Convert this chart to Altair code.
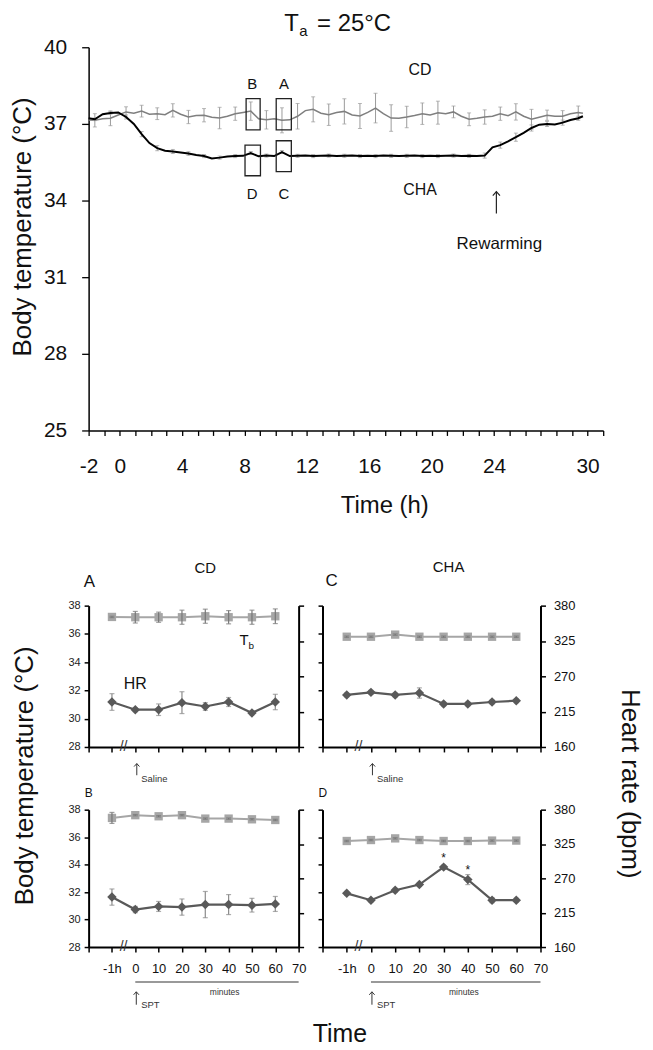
import altair as alt
import pandas as pd

FONT = "Liberation Sans"
INK = "#111111"
CHEVRON = "M-0.9,0.5L0,-0.5L0.9,0.5"

# ---------------- top panel : Ta = 25 C ----------------
t_top = [-2.0, -1.6, -1.1, -0.6, -0.1, 0.4, 0.9, 1.4, 1.9, 2.4,
         2.9, 3.4, 3.9, 4.4, 4.9, 5.4, 5.9, 6.4, 6.9, 7.4,
         7.9, 8.4, 8.9, 9.4, 9.9, 10.4, 10.9, 11.4, 11.9, 12.4,
         12.9, 13.4, 13.9, 14.4, 14.9, 15.4, 15.9, 16.4, 16.9, 17.4,
         17.9, 18.4, 18.9, 19.4, 19.9, 20.4, 20.9, 21.4, 21.9, 22.4,
         22.9, 23.4, 23.9, 24.4, 24.9, 25.4, 25.9, 26.4, 26.9, 27.4,
         27.9, 28.4, 28.9, 29.4, 29.7]
cd_top = [37.15, 37.14, 37.2, 37.22, 37.35, 37.47, 37.42, 37.5, 37.38, 37.4,
          37.36, 37.53, 37.38, 37.27, 37.33, 37.34, 37.26, 37.23, 37.3, 37.4,
          37.45, 37.5, 37.2, 37.16, 37.2, 37.14, 37.16, 37.3, 37.52, 37.57,
          37.42, 37.36, 37.45, 37.49, 37.35, 37.31, 37.45, 37.62, 37.4, 37.23,
          37.22, 37.27, 37.33, 37.4, 37.35, 37.44, 37.4, 37.47, 37.3, 37.18,
          37.22, 37.27, 37.3, 37.4, 37.32, 37.47, 37.3, 37.18, 37.26, 37.34,
          37.3, 37.3, 37.4, 37.45, 37.42]
cha_top = [37.22, 37.18, 37.38, 37.43, 37.45, 37.27, 37.0, 36.6, 36.25, 36.05,
           35.95, 35.92, 35.88, 35.84, 35.78, 35.74, 35.65, 35.68, 35.72, 35.74,
           35.75, 35.86, 35.73, 35.76, 35.74, 35.9, 35.74, 35.75, 35.76, 35.74,
           35.75, 35.76, 35.74, 35.75, 35.76, 35.74, 35.75, 35.74, 35.76, 35.75,
           35.74, 35.75, 35.76, 35.74, 35.75, 35.74, 35.75, 35.76, 35.74, 35.75,
           35.74, 35.76, 36.08, 36.17, 36.32, 36.48, 36.65, 36.84, 36.97, 37.0,
           36.98, 37.05, 37.15, 37.22, 37.3]
# SEM at every other sample (hourly error bars)
cd_err = [0.26, 0.29, 0.2, 0.23, 0.23, 0.26, 0.26, 0.26, 0.42, 0.26,
          0.36, 0.36, 0.49, 0.5, 0.49, 0.42, 0.49, 0.49, 0.58, 0.52,
          0.42, 0.42, 0.45, 0.23, 0.25, 0.28, 0.26, 0.32, 0.39, 0.2,
          0.22, 0.25]
cha_err = [0.05, 0.05, 0.08, 0.1, 0.1, 0.08, 0.07, 0.06, 0.06, 0.06,
           0.06, 0.06, 0.06, 0.06, 0.06, 0.06, 0.06, 0.06, 0.06, 0.06,
           0.06, 0.06, 0.06, 0.06, 0.06, 0.1, 0.12, 0.16, 0.12, 0.1,
           0.1, 0.08]

box_labels = ["B", "A", "D", "C"]
box_t0 = [8.1, 10.03, 8.03, 10.03]
box_t1 = [9.0, 11.0, 9.02, 11.0]
box_lo = [36.77, 36.77, 34.97, 35.13]
box_hi = [37.99, 37.99, 36.17, 36.34]
box_label_t = [8.49, 10.52, 8.49, 10.52]
box_label_y = [38.57, 38.57, 34.27, 34.27]

top_x_ticks = list(range(-2, 32))
top_x_labels = [-2, 0, 4, 8, 12, 16, 20, 24, 30]
top_y_ticks = [25, 28, 31, 34, 37, 40]

# ---------------- bottom panels ----------------
x_labels = ["-1h", "0", "10", "20", "30", "40", "50", "60"]
x_domain = ["start"] + x_labels + ["70"]
temp_ticks = [28, 30, 32, 34, 36, 38]
hr_ticks = [160, 215, 270, 325, 380]

tb_A = [37.2, 37.18, 37.18, 37.18, 37.25, 37.18, 37.18, 37.25]
tb_A_err = [0.05, 0.41, 0.36, 0.5, 0.5, 0.47, 0.5, 0.52]
hr_A = [230, 218, 218, 229, 223, 230, 213, 230]
hr_A_err = [13, 3, 9, 17, 6, 7, 3, 12]

tb_C = [35.8, 35.8, 35.95, 35.8, 35.8, 35.8, 35.8, 35.8]
tb_C_err = [0.05, 0.05, 0.05, 0.05, 0.05, 0.05, 0.05, 0.05]
hr_C = [241, 245, 241, 244, 227, 227, 230, 232]
hr_C_err = [3, 3, 3, 8, 3, 3, 3, 3]

tb_B = [37.4, 37.6, 37.52, 37.6, 37.35, 37.35, 37.3, 37.25]
tb_B_err = [0.4, 0.05, 0.05, 0.05, 0.05, 0.05, 0.05, 0.05]
hr_B = [240, 220, 225, 224, 228, 228, 227, 229]
hr_B_err = [13, 5, 8, 13, 21, 16, 11, 12]

tb_D = [35.72, 35.79, 35.91, 35.79, 35.72, 35.72, 35.75, 35.75]
tb_D_err = [0.05, 0.05, 0.05, 0.05, 0.05, 0.05, 0.05, 0.05]
hr_D = [246, 235, 251, 260, 288, 268, 235, 235]
hr_D_err = [3, 3, 3, 3, 3, 8, 4, 3]

TB_C = "#a6a6a6"
HR_C = "#595959"

# ================= top chart =================
TOP_X_AXIS = alt.Axis(
    values=top_x_ticks,
    labelExpr=f"indexof({top_x_labels}, datum.value) >= 0 ? toString(datum.value) : ''",
    labelFontSize=21, labelColor=INK, labelPadding=20, labelOverlap=False, labelFlush=False,
    tickSize=5, tickColor="black", tickWidth=1.3, domainColor="black", domainWidth=1.5,
    grid=False, title="Time (h)", titleFontSize=24, titleFontWeight="normal", titleColor=INK,
    titleX=297, titleY=82, titleAlign="center", titleBaseline="alphabetic")
TOP_Y_AXIS = alt.Axis(
    values=top_y_ticks, labelFontSize=21, labelColor=INK, labelPadding=15,
    tickSize=7, tickColor="black", tickWidth=1.3, domainColor="black", domainWidth=1.5,
    grid=False, title="Body temperature (°C)", titleFontSize=26, titleFontWeight="normal",
    titleColor=INK, titleX=-53, titleY=180, titleAngle=270, titleBaseline="bottom",
    titleAlign="center")


def top_x(field):
    return alt.X(f"{field}:Q", scale=alt.Scale(domain=[-2, 31], nice=False, zero=False), axis=TOP_X_AXIS)


def top_y(field):
    return alt.Y(f"{field}:Q", scale=alt.Scale(domain=[25, 40], nice=False, zero=False), axis=TOP_Y_AXIS)


def top_text(t, y, text, size, align="center", baseline="middle", dx=0, color=INK):
    df = pd.DataFrame({"t": [t], "y": [y], "txt": [text]})
    return alt.Chart(df).mark_text(fontSize=size, align=align, baseline=baseline, dx=dx,
                                   color=color, font=FONT).encode(
        x=top_x("t"), y=top_y("y"), text="txt:N")


top_df = pd.DataFrame({"t": t_top, "cd": cd_top, "cha": cha_top})
eb_t = t_top[1::2]
eb_df = pd.DataFrame({"t": eb_t,
                      "cd_lo": [v - e for v, e in zip(cd_top[1::2], cd_err)],
                      "cd_hi": [v + e for v, e in zip(cd_top[1::2], cd_err)],
                      "cha_lo": [v - e for v, e in zip(cha_top[1::2], cha_err)],
                      "cha_hi": [v + e for v, e in zip(cha_top[1::2], cha_err)]})


def top_err(lo, hi, color):
    base = alt.Chart(eb_df)
    rule = base.mark_rule(color=color, strokeWidth=1).encode(x=top_x("t"), y=top_y(lo), y2=alt.Y2(hi))
    caps = base.transform_fold([lo, hi], as_=["k", "v"]).mark_tick(
        color=color, size=4, thickness=1, orient="horizontal").encode(x=top_x("t"), y=top_y("v"))
    return [rule, caps]


cd_line = alt.Chart(top_df).mark_line(color="#7f7f7f", strokeWidth=1.5).encode(x=top_x("t"), y=top_y("cd"))
cha_line = alt.Chart(top_df).mark_line(color="black", strokeWidth=2).encode(x=top_x("t"), y=top_y("cha"))

box_df = pd.DataFrame({"lab": box_labels, "t0": box_t0, "t1": box_t1, "lo": box_lo, "hi": box_hi,
                       "lt": box_label_t, "ly": box_label_y})
boxes = alt.Chart(box_df).mark_rect(fill="transparent", stroke="#222222", strokeWidth=1.3).encode(
    x=top_x("t0"), x2=alt.X2("t1"), y=top_y("lo"), y2=alt.Y2("hi"))
box_text = alt.Chart(box_df).mark_text(fontSize=15, color=INK, font=FONT, baseline="middle").encode(
    x=top_x("lt"), y=top_y("ly"), text="lab:N")

# rewarming arrow (shaft + open head)
arrow_df = pd.DataFrame({"t": [24.15], "tip": [34.35], "tail": [33.49], "head": [34.27]})
arrow_shaft = alt.Chart(arrow_df).mark_rule(color="#222222", strokeWidth=1.2).encode(
    x=top_x("t"), y=top_y("tail"), y2=alt.Y2("tip"))
arrow_head = alt.Chart(arrow_df).mark_point(shape=CHEVRON, size=64, filled=False, color="#222222",
                                            strokeWidth=1.2, opacity=1).encode(x=top_x("t"), y=top_y("head"))

top_layers = (top_err("cd_lo", "cd_hi", "#9a9a9a") + [cd_line] + top_err("cha_lo", "cha_hi", "#9a9a9a")
              + [cha_line, boxes, box_text, arrow_shaft, arrow_head,
                 top_text(10.54, 40.62, "T", 24, align="left", baseline="alphabetic"),
                 top_text(11.5, 40.43, "a", 15, align="left", baseline="alphabetic"),
                 top_text(12.65, 40.62, "= 25°C", 24, align="left", baseline="alphabetic"),
                 top_text(19.25, 39.09, "CD", 16),
                 top_text(19.25, 34.42, "CHA", 16),
                 top_text(24.34, 32.31, "Rewarming", 17)])
top_chart = alt.layer(*top_layers).properties(width=517, height=385)


# ================= bottom panels =================
def make_panel(tb, tb_err, hr, hr_err, w, h, left_labels, right_labels, x_labels_on,
               temp_title=None, hr_title=None, x_title=None, temp_notes=(), hr_notes=(), rules=(),
               arrows=()):
    df = pd.DataFrame({"lab": x_labels, "idx": list(range(len(x_labels))), "tb": tb, "hr": hr,
                       "tb_lo": [v - e for v, e in zip(tb, tb_err)],
                       "tb_hi": [v + e for v, e in zip(tb, tb_err)],
                       "hr_lo": [v - e for v, e in zip(hr, hr_err)],
                       "hr_hi": [v + e for v, e in zip(hr, hr_err)]})
    xkw = dict(labels=x_labels_on, labelExpr="datum.value == 'start' ? '' : datum.label",
               labelFontSize=13, labelPadding=11, labelColor=INK, labelOverlap=False, labelAngle=0,
               tickSize=5, tickColor="black", tickWidth=1.5, domainColor="black", domainWidth=2,
               grid=False, title=None)
    if x_title:
        xkw.update(title=x_title, titleFontSize=25, titleFontWeight="normal", titleColor=INK,
                   titleX=252, titleY=95, titleAlign="center", titleBaseline="alphabetic")
    tkw = dict(values=temp_ticks, labels=left_labels, labelFontSize=11, labelPadding=4, labelColor="#222222",
               tickSize=4.5, tickColor="black", tickWidth=1.5, domainColor="black", domainWidth=2,
               grid=False, orient="left", title=None)
    if temp_title:
        tkw.update(title=temp_title, titleFontSize=26, titleFontWeight="normal", titleColor=INK,
                   titleX=-51, titleY=170.5, titleAngle=270, titleBaseline="bottom", titleAlign="center")
    hkw = dict(values=hr_ticks, labels=right_labels, labelFontSize=13, labelPadding=8, labelColor=INK,
               tickSize=5, tickColor="black", tickWidth=1.5, domainColor="black", domainWidth=2,
               grid=False, orient="right", title=None)
    if hr_title:
        hkw.update(title=hr_title, titleFontSize=26, titleFontWeight="normal", titleColor=INK,
                   titleX=76, titleY=178.5, titleAngle=90, titleBaseline="bottom", titleAlign="center")
    x_axis = alt.Axis(**xkw)
    t_axis = alt.Axis(**tkw)
    h_axis = alt.Axis(**hkw)
    X = alt.X("lab:N", scale=alt.Scale(type="point", domain=x_domain, padding=0), axis=x_axis)

    def TY(f):
        return alt.Y(f"{f}:Q", scale=alt.Scale(domain=[28, 38], nice=False, zero=False), axis=t_axis)

    def HY(f):
        return alt.Y(f"{f}:Q", scale=alt.Scale(domain=[160, 380], nice=False, zero=False), axis=h_axis)

    base = alt.Chart(df)

    def err(lo, hi, yf, color):
        rule = base.mark_rule(color=color, strokeWidth=1.2).encode(x=X, y=yf(lo), y2=alt.Y2(hi))
        caps = base.transform_fold([lo, hi], as_=["k", "v"]).mark_tick(
            color=color, size=5, thickness=1.2, orient="horizontal").encode(x=X, y=yf("v"))
        return [rule, caps]

    def note(lab, y, text, yf, size, align="center", baseline="middle", dx=0, color=INK):
        d = pd.DataFrame({"lab": [lab], "y": [y], "txt": [text]})
        return alt.Chart(d).mark_text(fontSize=size, align=align, baseline=baseline, dx=dx,
                                      color=color, font=FONT).encode(x=X, y=yf("y"), text="txt:N")

    tb_line = base.mark_line(color=TB_C, strokeWidth=2).encode(x=X, y=TY("tb"), order="idx:Q")
    tb_pts = base.mark_point(shape="square", filled=True, size=70, color=TB_C, opacity=1).encode(x=X, y=TY("tb"))
    hr_line = base.mark_line(color=HR_C, strokeWidth=2.2).encode(x=X, y=HY("hr"), order="idx:Q")
    hr_pts = base.mark_point(shape="diamond", filled=True, size=90, color=HR_C, opacity=1).encode(x=X, y=HY("hr"))

    t_layers = [tb_line, tb_pts] + err("tb_lo", "tb_hi", TY, "#777777")
    for r in rules:
        d = pd.DataFrame({"lab": [r[0]], "lab2": [r[1]], "y": [r[2]]})
        t_layers.append(alt.Chart(d).mark_rule(color="#777777", strokeWidth=1.5).encode(
            x=X, x2=alt.X2("lab2"), y=TY("y")))
    for a in arrows:
        d = pd.DataFrame({"lab": [a[0]], "tip": [a[1]], "tail": [a[2]], "head": [a[3]]})
        t_layers.append(alt.Chart(d).mark_rule(color="#333333", strokeWidth=1, xOffset=a[4]).encode(
            x=X, y=TY("tail"), y2=alt.Y2("tip")))
        t_layers.append(alt.Chart(d).mark_point(shape=CHEVRON, size=36, filled=False, color="#333333",
                                                strokeWidth=1, opacity=1, xOffset=a[4]).encode(
            x=X, y=TY("head")))
    t_layers += [note(*n[:3], TY, *n[3:]) for n in temp_notes]
    h_layers = err("hr_lo", "hr_hi", HY, "#8a8a8a") + [hr_line, hr_pts]
    h_layers += [note(*n[:3], HY, *n[3:]) for n in hr_notes]
    return alt.layer(alt.layer(*t_layers), alt.layer(*h_layers)).resolve_scale(y="independent").properties(
        width=w, height=h)


GRAY = "#333333"
saline_notes = [("-1h", 28, "//", 14, "center", "middle", 11.7, GRAY),
                ("0", 25.75, "Saline", 9.5, "left", "middle", 6, GRAY)]
saline_arrow = [("0", 26.82, 26.0, 26.72, 1.5)]
spt_notes = [("-1h", 28, "//", 14, "center", "middle", 11.7, GRAY),
             ("40", 24.74, "minutes", 8.5, "center", "middle", -4, GRAY),
             ("0", 23.8, "SPT", 9.5, "left", "middle", 6, GRAY)]
spt_arrow = [("0", 24.74, 23.8, 24.63, 1)]
minutes_rule = [("0", "70", 25.46)]

panel_A = make_panel(tb_A, tb_A_err, hr_A, hr_A_err, 211, 142, True, False, False,
                     temp_title="Body temperature (°C)",
                     temp_notes=[("start", 39.34, "A", 17, "left", "alphabetic", -5),
                                 ("30", 40.32, "CD", 15, "center", "alphabetic"),
                                 ("0", 32.08, "HR", 16, "center", "alphabetic"),
                                 ("40", 35.18, "T", 15, "left", "alphabetic", 11),
                                 ("40", 34.9, "b", 10, "left", "alphabetic", 20)] + saline_notes,
                     arrows=saline_arrow)
panel_C = make_panel(tb_C, tb_C_err, hr_C, hr_C_err, 219, 142, False, True, False,
                     hr_title="Heart rate (bpm)",
                     temp_notes=[("start", 39.41, "C", 17, "left", "alphabetic", 3),
                                 ("30", 40.39, "CHA", 15, "center", "alphabetic", 5)] + saline_notes,
                     arrows=saline_arrow)
panel_B = make_panel(tb_B, tb_B_err, hr_B, hr_B_err, 211, 138, True, False, True,
                     x_title="Time",
                     temp_notes=[("start", 38.94, "B", 12, "left", "alphabetic", -4)] + spt_notes,
                     rules=minutes_rule, arrows=spt_arrow)
panel_D = make_panel(tb_D, tb_D_err, hr_D, hr_D_err, 219, 138, False, True, True,
                     temp_notes=[("start", 38.94, "D", 12, "left", "alphabetic", -4)] + spt_notes,
                     hr_notes=[("30", 303, "*", 12, "center", "middle"),
                               ("40", 283, "*", 12, "center", "middle")],
                     rules=minutes_rule, arrows=spt_arrow)

grid = alt.concat(panel_A, panel_C, panel_B, panel_D, columns=2,
                  spacing={"row": 63, "column": 24}, bounds="flush", align="each")

chart = alt.vconcat(top_chart, grid, spacing=176, bounds="flush").properties(
    padding={"left": 2, "top": 2, "right": 3, "bottom": 0}).configure(
    font=FONT).configure_view(stroke=None)

chart.save("out.html", embed_options={"renderer": "svg", "actions": False})
